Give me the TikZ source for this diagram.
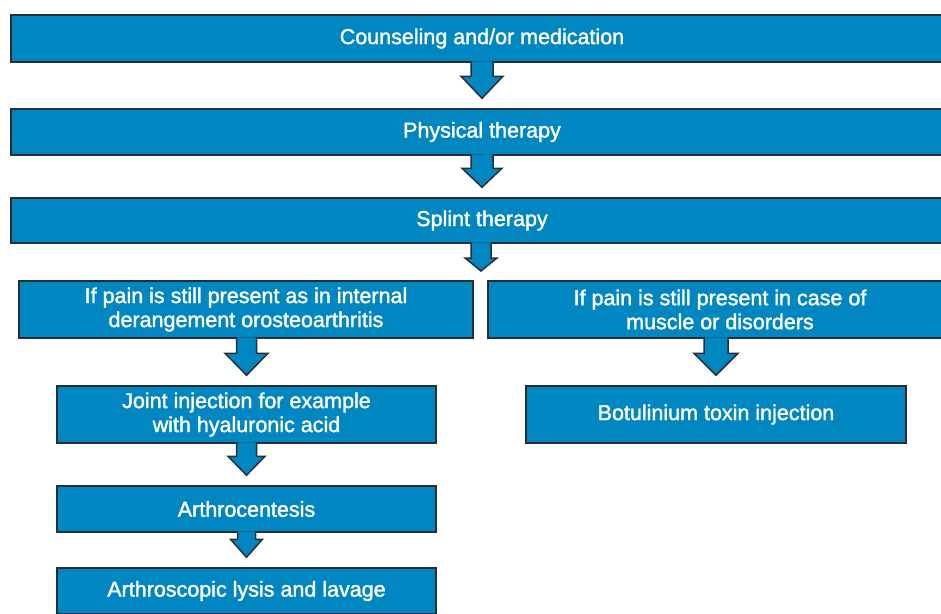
\documentclass[tikz,border=0pt]{standalone}
\usepackage{fontspec}
\setmainfont{Liberation Sans}
\newfontfamily\stepfont[FakeBold=1.6]{Liberation Sans}
\usetikzlibrary{calc}

\definecolor{boxblue}{RGB}{0,134,192}
\definecolor{edgegray}{RGB}{40,46,52}

\tikzset{shaftw/.store in = \shafthw, headw/.store in = \headhw, headlen/.store in = \headln,
    shaftw = 11pt, headw = 21pt, headlen = 21pt}

\tikzstyle{stepbox} = [rectangle, inner sep = 0pt, align = center, text = white, fill = boxblue, draw = edgegray, line width = 1.5pt, font = \stepfont\fontsize{21.5}{24}\selectfont]
\tikzstyle{flow} = [fill = boxblue, draw = edgegray, line width = 1.5pt, line join = miter,
    to path = {let \p1 = (\tikztostart), \p2 = (\tikztotarget) in
        (\x2-\shafthw, \y1+1.5pt) -- (\x2-\shafthw, \y2+10pt+\headln) -- (\x2-\headhw, \y2+10pt+\headln)
        -- (\x2, \y2+10pt) -- (\x2+\headhw, \y2+10pt+\headln) -- (\x2+\shafthw, \y2+10pt+\headln)
        -- (\x2+\shafthw, \y1+1.5pt)}]

\begin{document}
\begin{tikzpicture}[x = 1pt, y = -1pt]

    \useasboundingbox (0,0) rectangle (941,613);

    \node(counsel)[stepbox, minimum width = 942pt, minimum height = 47pt] at (482,38.5) {Counseling and/or medication};
    \node(physio)[stepbox, minimum width = 942pt, minimum height = 46pt] at (482,132) {Physical therapy};
    \node(splint)[stepbox, minimum width = 942pt, minimum height = 45pt] at (482,220.5) {Splint therapy};
    \coordinate(split) at (481,281);

    \node(joint)[stepbox, minimum width = 454pt, minimum height = 57pt] at (246,309.5) {If pain is still present as in internal\\derangement orosteoarthritis};
    \node(muscle)[stepbox, minimum width = 464pt, minimum height = 57pt] at (720,309.5) {If pain is still present in case of\\muscle or disorders};

    \node(inject)[stepbox, minimum width = 379pt, minimum height = 57pt] at (246.5,414.5) {Joint injection for example\\with hyaluronic acid};
    \node(centesis)[stepbox, minimum width = 379pt, minimum height = 46pt] at (246.5,509) {Arthrocentesis};
    \node(lavage)[stepbox, minimum width = 379pt, minimum height = 46pt] at (246.5,591) {Arthroscopic lysis and lavage};
    \node(botox)[stepbox, minimum width = 380pt, minimum height = 57pt] at (716,414.5) {Botulinium toxin injection};

    \draw[flow, headlen = 22pt](counsel.south) to (physio.north);
    \draw[flow, headw = 20pt, headlen = 19pt](physio.south) to (splint.north);
    \draw[flow, shaftw = 10pt, headw = 16pt, headlen = 13pt](splint.south) to (split);
    \draw[flow, shaftw = 10pt, headw = 21.5pt, headlen = 22pt](joint.south) to (inject.north);
    \draw[flow, shaftw = 10pt, headw = 18.5pt, headlen = 19pt](inject.south) to (centesis.north);
    \draw[flow, shaftw = 9pt, headw = 16pt, headlen = 18pt](centesis.south) to (lavage.north);
    \draw[flow, shaftw = 12pt, headw = 22pt, headlen = 22pt](muscle.south) to (botox.north);

\end{tikzpicture}
\end{document}
